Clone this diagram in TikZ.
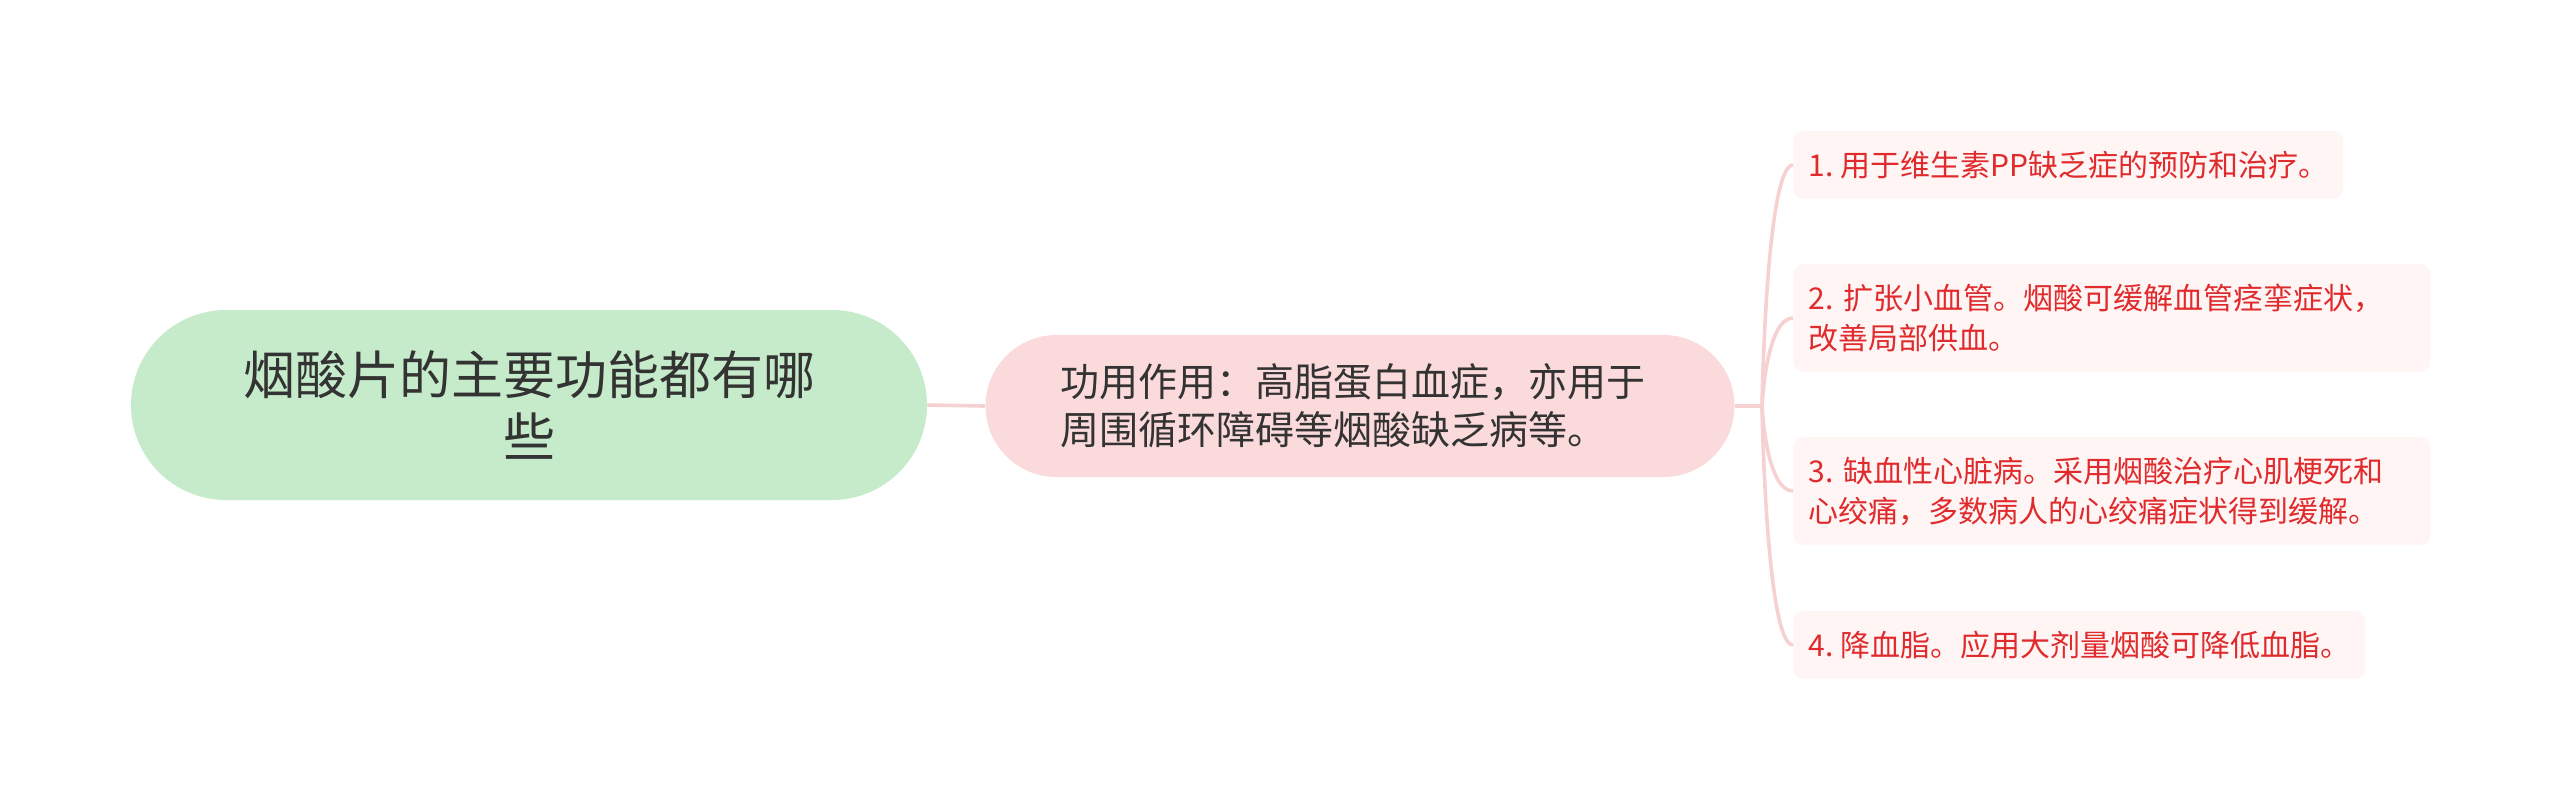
\documentclass[tikz,border=0pt]{standalone}
\usepackage{fontspec}
\newfontfamily\cjk{Noto Sans CJK SC}
\usepackage{tikz}
\usetikzlibrary{shapes.misc}

\definecolor{rootfill}{HTML}{C6EBCB}
\definecolor{midfill}{HTML}{FBDADB}
\definecolor{leaffill}{HTML}{FFF5F5}
\definecolor{linkpink}{HTML}{F6D1D2}
\definecolor{leafred}{HTML}{E02A2C}
\definecolor{darktext}{HTML}{333333}
\frenchspacing

\begin{document}
\begin{tikzpicture}[x=0.5pt,y=-0.5pt,
    rootbox/.style={rounded rectangle,fill=rootfill,text=darktext,inner sep=0pt,
      minimum width=398pt,minimum height=95pt,align=center,
      font=\cjk\fontsize{26pt}{31pt}\selectfont},
    midbox/.style={rounded rectangle,fill=midfill,text=darktext,inner sep=0pt,
      minimum width=374.5pt,minimum height=71pt,text width=300pt,align=left,
      font=\cjk\fontsize{19.5pt}{24pt}\selectfont},
    leafbox/.style={rectangle,rounded corners=5pt,fill=leaffill,text=leafred,
      anchor=west,inner xsep=7.5pt,inner ysep=0pt,align=left,
      font=\cjk\fontsize{15pt}{20pt}\selectfont},
    link/.style={draw=linkpink,line width=1.8pt}]
  \useasboundingbox (0,0) rectangle (2560,811);
  \node[rootbox] (root) at (529,405) {烟酸片的主要功能都有哪\\些};
  \node[midbox] (use) at (1360,406) {功用作用：高脂蛋白血症，亦用于\\周围循环障碍等烟酸缺乏病等。};
  \node[leafbox,minimum height=34pt] (l1) at (1793,165) {1. 用于维生素PP缺乏症的预防和治疗。};
  \node[leafbox,minimum height=54pt,text width=303.5pt] (l2) at (1793,318) {2. 扩张小血管。烟酸可缓解血管痉挛症状，\\改善局部供血。};
  \node[leafbox,minimum height=54pt,text width=303.5pt] (l3) at (1793,491) {3. 缺血性心脏病。采用烟酸治疗心肌梗死和\\心绞痛，多数病人的心绞痛症状得到缓解。};
  \node[leafbox,minimum height=34pt] (l4) at (1793,645) {4. 降血脂。应用大剂量烟酸可降低血脂。};
  \coordinate (fork) at (1762,406);
  \coordinate (trunk) at (1766,406);
  \draw[link] (root.east) -- (use.west);
  \draw[link] (use.east) -- (fork);
  \foreach \k in {1,2,3,4} {
    \draw[link] (fork) .. controls (fork) and (trunk |- l\k.west) .. (l\k.west);
  }
\end{tikzpicture}
\end{document}
